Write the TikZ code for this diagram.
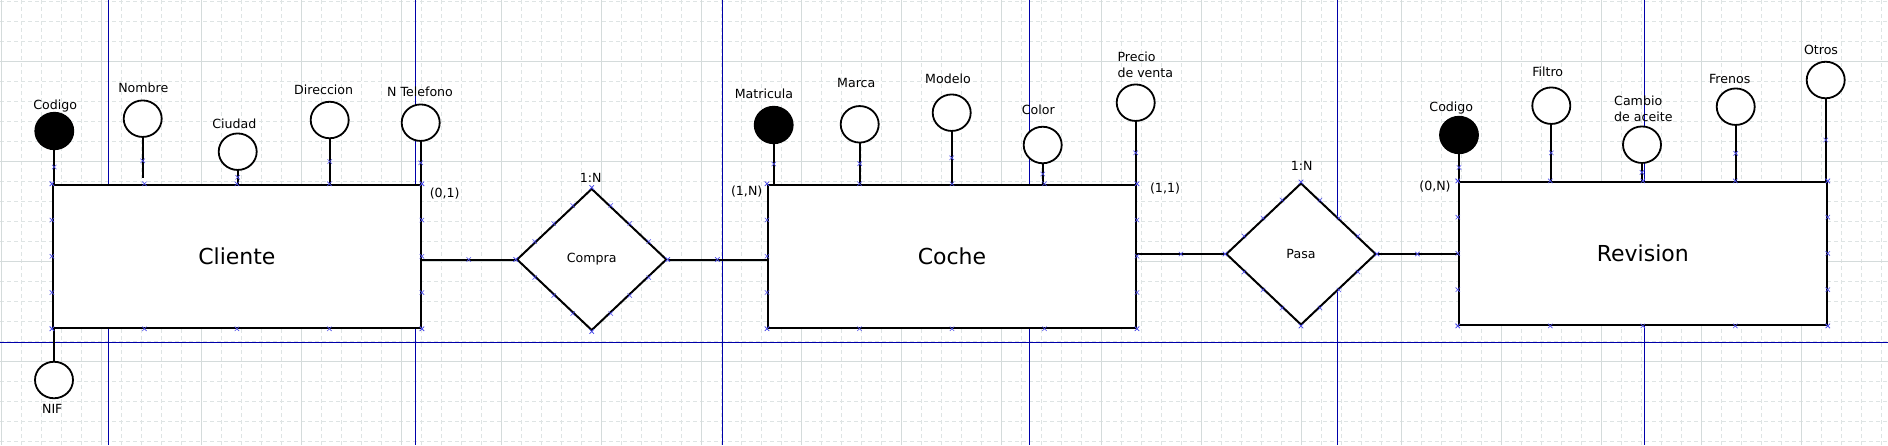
\documentclass[tikz,border=0pt]{standalone}
\usepackage{fontspec}
\setmainfont{DejaVu Sans}
\usepackage{tikz}
\usetikzlibrary{shapes.geometric,calc}
\definecolor{gridmaj}{RGB}{212,219,219}
\definecolor{gridmin}{RGB}{222,228,228}
\definecolor{pageblue}{RGB}{0,0,170}
\definecolor{cpblue}{RGB}{80,80,235}
\tikzset{
  gmaj/.style={gridmaj, line width=1pt},                               % major grid every 100
  gmin/.style={gridmin, line width=0.8pt, dash pattern=on 4pt off 3pt}, % minor grid every 20
  pgline/.style={pageblue, line width=1pt},                            % page breaks
  entity/.style={draw, fill=white, line width=2pt, inner sep=0pt,
    minimum width=368pt, minimum height=143pt, font=\fontsize{22}{26}\selectfont},
  relat/.style={diamond, draw, fill=white, line width=2pt, inner sep=0pt,
    minimum width=150pt, minimum height=142pt, font=\fontsize{12.6}{15}\selectfont},
  attr/.style={ellipse, draw, fill=white, line width=1.8pt, inner sep=0pt,
    minimum width=38pt, minimum height=36.5pt},
  keyattr/.style={attr, fill=black},                                   % primary key
  lbl/.style={anchor=base, inner sep=0pt, font=\fontsize{12.6}{16}\selectfont},
  lbltwo/.style={lbl, anchor=base west, align=left},                   % base = last line
  link/.style={line width=2pt},
  cpmark/.style={cpblue, line width=0.6pt},                            % connection points
}
\newcommand\cpx[1]{\draw[cpmark] #1 +(-2.2,-2.2) -- +(2.2,2.2) #1 +(-2.2,2.2) -- +(2.2,-2.2);}
\newcommand\boxcp[1]{\foreach \t in {0,0.25,0.5,0.75,1}{%
  \cpx{($(#1.north west)!\t!(#1.north east)$)}
  \cpx{($(#1.south west)!\t!(#1.south east)$)}
  \cpx{($(#1.north west)!\t!(#1.south west)$)}
  \cpx{($(#1.north east)!\t!(#1.south east)$)}}}
\newcommand\diacp[1]{\foreach \t in {0,0.25,0.5,0.75,1}{%
  \cpx{($(#1.west)!\t!(#1.north)$)}
  \cpx{($(#1.north)!\t!(#1.east)$)}
  \cpx{($(#1.east)!\t!(#1.south)$)}
  \cpx{($(#1.south)!\t!(#1.west)$)}}}
\newcommand\attrlink[2]{\draw[link] (#1.south) -- (#1.south |- #2.north);
  \cpx{($(#1.south)!0.5!(#1.south |- #2.north)$)}}

\begin{document}
\begin{tikzpicture}[x=1pt, y=-1pt]
  \useasboundingbox[fill=white] (0,0) rectangle (1888,445);
  % canvas grid
  \foreach \i in {0,...,94} \draw[gmin] ({1.7+20*\i},0) -- ({1.7+20*\i},445);
  \foreach \i in {0,...,22} \draw[gmin] (0,{1.7+20*\i}) -- (1888,{1.7+20*\i});
  \foreach \i in {0,...,18} \draw[gmaj] ({1.7+100*\i},0) -- ({1.7+100*\i},445);
  \foreach \i in {0,...,3} \draw[gmaj] (0,{61.7+100*\i}) -- (1888,{61.7+100*\i});
  \foreach \i in {0,...,5} \draw[pgline] ({108.3+307.2*\i},0) -- ({108.3+307.2*\i},445);
  \draw[pgline] (0,342.3) -- (1888,342.3);

  % entities and relationships
  \node[entity] (cli) at (236.9,256.3) {Cliente};
  \node[entity] (coc) at (952,256.3) {Coche};
  \node[entity] (rev) at (1642.8,253.4) {Revision};
  \node[relat] (compra) at (591.7,259.5) {Compra};
  \node[relat] (pasa) at (1301,254) {Pasa};

  % attributes of Cliente
  \node[keyattr] (cliCod) at (54.3,131) {};
  \node[attr] (cliNom) at (142.7,118.7) {};
  \node[attr] (cliCiu) at (237.7,151.7) {};
  \node[attr] (cliDir) at (329.7,120) {};
  \node[attr] (cliTel) at (420.7,122.7) {};
  \node[attr] (cliNif) at (54,380) {};
  \node[lbl] (tCliCod) at (55.3,109.3) {Codigo};
  \node[lbl] (tCliNom) at (143.3,92.3) {Nombre};
  \node[lbl] (tCliCiu) at (234.3,128.3) {Ciudad};
  \node[lbl] (tCliDir) at (323.7,94.3) {Direccion};
  \node[lbl] (tCliTel) at (420,96.3) {N Telefono};
  \node[lbl] (tCliNif) at (52.3,413.9) {NIF};

  % attributes of Coche
  \node[keyattr] (cocMat) at (773.7,125) {};
  \node[attr] (cocMar) at (859.7,124.3) {};
  \node[attr] (cocMod) at (951.7,112.7) {};
  \node[attr] (cocCol) at (1042.7,145) {};
  \node[attr] (cocPre) at (1135.7,102.7) {};
  \node[lbl] (tCocMat) at (764,98.3) {Matricula};
  \node[lbl] (tCocMar) at (856.3,87.3) {Marca};
  \node[lbl] (tCocMod) at (948,83.3) {Modelo};
  \node[lbl] (tCocCol) at (1038.3,114.3) {Color};
  \node[lbltwo] (tCocPre) at (1117.3,77.3) {Precio\\de venta};

  % attributes of Revision
  \node[keyattr] (revCod) at (1459,135) {};
  \node[attr] (revFil) at (1551.3,105.7) {};
  \node[attr] (revCam) at (1642,144.7) {};
  \node[attr] (revFre) at (1735.7,106.7) {};
  \node[attr] (revOtr) at (1825.7,80) {};
  \node[lbl] (tRevCod) at (1451.3,111.3) {Codigo};
  \node[lbl] (tRevFil) at (1547.7,76.9) {Filtro};
  \node[lbltwo] (tRevCam) at (1614,121.3) {Cambio\\de aceite};
  \node[lbl] (tRevFre) at (1729.7,83.3) {Frenos};
  \node[lbl] (tRevOtr) at (1821,54.3) {Otros};

  % cardinalities
  \node[lbl] (card1) at (444.7,197.3) {(0,1)};
  \node[lbl] (card2) at (746.7,195.3) {(1,N)};
  \node[lbl] (card3) at (1165,192.9) {(1,1)};
  \node[lbl] (card4) at (1435,190.3) {(0,N)};
  \node[lbl] (tipo1) at (590.7,182.3) {1:N};
  \node[lbl] (tipo2) at (1301.7,170.3) {1:N};

  % attribute links
  \attrlink{cliCod}{cli}
  \draw[link, shorten >=6pt] (cliNom.south) -- (cliNom.south |- cli.north);
  \cpx{($(cliNom.south)!0.5!(cliNom.south |- cli.north)$)}
  \attrlink{cliCiu}{cli}
  \attrlink{cliDir}{cli}
  \attrlink{cliTel}{cli}
  \draw[link] (cliNif.north |- cli.south) -- (cliNif.north);
  \attrlink{cocMat}{coc}
  \attrlink{cocMar}{coc}
  \attrlink{cocMod}{coc}
  \attrlink{cocCol}{coc}
  \attrlink{cocPre}{coc}
  \attrlink{revCod}{rev}
  \attrlink{revFil}{rev}
  \attrlink{revCam}{rev}
  \attrlink{revFre}{rev}
  \attrlink{revOtr}{rev}

  % relationship links
  \draw[link] (compra.west -| cli.east) -- (compra.west);
  \draw[link] (compra.east) -- (compra.east -| coc.west);
  \draw[link] (pasa.west -| coc.east) -- (pasa.west);
  \draw[link] (pasa.east) -- (pasa.east -| rev.west);
  \cpx{($(compra.west -| cli.east)!0.5!(compra.west)$)}
  \cpx{($(compra.east)!0.5!(compra.east -| coc.west)$)}
  \cpx{($(pasa.west -| coc.east)!0.5!(pasa.west)$)}
  \cpx{($(pasa.east)!0.5!(pasa.east -| rev.west)$)}

  % connection points
  \boxcp{cli} \boxcp{coc} \boxcp{rev}
  \diacp{compra} \diacp{pasa}
\end{tikzpicture}
\end{document}
